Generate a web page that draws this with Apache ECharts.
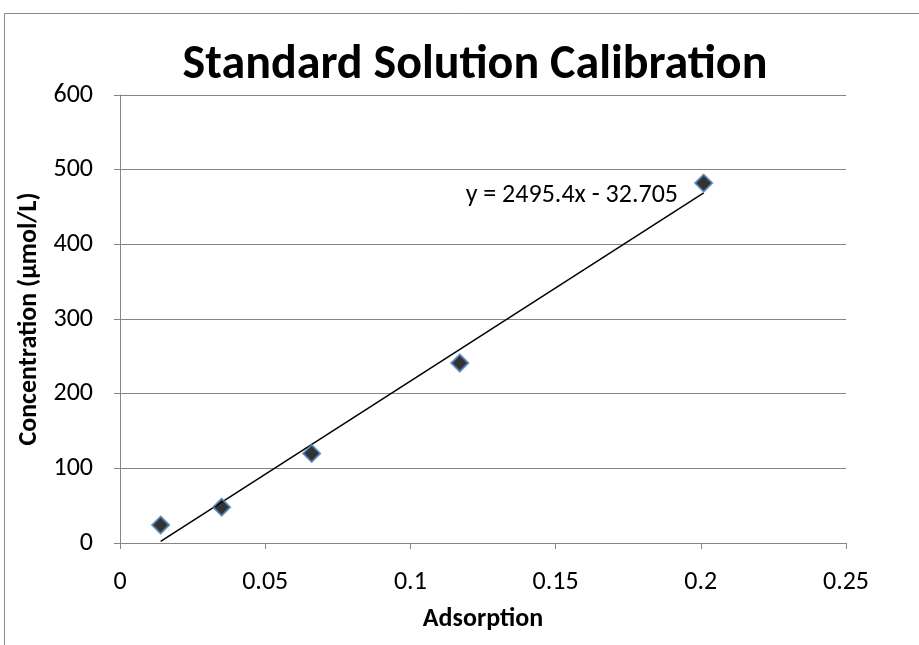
<!DOCTYPE html>
<html>
<head>
<meta charset="utf-8">
<style>html,body{margin:0;padding:0;background:#fff;}#chart{width:919px;height:645px;}</style>
<script src="https://cdn.jsdelivr.net/npm/echarts@6/dist/echarts.min.js"></script>
</head>
<body>
<div id="chart"></div>
<script>
const absorption = [0.014, 0.035, 0.066, 0.117, 0.201];
const concentration = [24, 48, 120, 241, 482];
const slope = 2495.4;
const intercept = -32.705;
const xTicks = [0, 0.05, 0.1, 0.15, 0.2, 0.25];
const yTicks = [0, 100, 200, 300, 400, 500, 600];
const titleText = 'Standard Solution Calibration';
const xName = 'Adsorption';
const yName = 'Concentration (µmol/L)';
const eqText = 'y = 2495.4x - 32.705';

const pts = absorption.map((x, i) => [x, concentration[i]]);
const xMin = Math.min(...absorption), xMax = Math.max(...absorption);
const trend = [[xMin, slope * xMin + intercept], [xMax, slope * xMax + intercept]];

const font = 'Carlito, "Open Sans", "Liberation Sans", sans-serif';
const chart = echarts.init(document.getElementById('chart'));
chart.setOption({
  animation: false,
  title: {
    text: titleText, left: 470, top: 37, textAlign: 'center',
    textStyle: {fontFamily: font, fontSize: 48, fontWeight: 'bold', color: '#000'}
  },
  grid: {left: 120, right: 73, top: 95, bottom: 102},
  xAxis: {
    type: 'value', min: 0, max: 0.25, interval: 0.05,
    name: xName, nameLocation: 'middle', nameGap: 63,
    nameTextStyle: {fontFamily: font, fontSize: 26, fontWeight: 'bold', color: '#000'},
    axisLine: {show: true, lineStyle: {color: '#868686', width: 1}},
    axisTick: {show: true, inside: false, length: 6, lineStyle: {color: '#868686'}},
    axisLabel: {fontFamily: font, fontSize: 26, color: '#000', margin: 26,
      formatter: v => String(parseFloat(v.toFixed(2)))},
    splitLine: {show: false}
  },
  yAxis: {
    type: 'value', min: 0, max: 600, interval: 100,
    name: yName, nameLocation: 'middle', nameGap: 77, nameRotate: 90,
    nameTextStyle: {fontFamily: font, fontSize: 26, fontWeight: 'bold', color: '#000'},
    axisLine: {show: true, lineStyle: {color: '#868686', width: 1}},
    axisTick: {show: true, inside: false, length: 6, lineStyle: {color: '#868686'}},
    axisLabel: {fontFamily: font, fontSize: 26, color: '#000', margin: 27},
    splitLine: {show: true, lineStyle: {color: '#868686', width: 1}}
  },
  series: [
    {
      type: 'line', data: trend, symbol: 'none', silent: true,
      lineStyle: {color: '#000', width: 1.5}, z: 2
    },
    {
      type: 'scatter', data: pts, symbol: 'diamond', symbolSize: 17,
      itemStyle: {color: '#000', borderColor: '#4f81bd', borderWidth: 2}, z: 3
    }
  ],
  graphic: [
    {type: 'rect', shape: {x: 4.5, y: 13.5, width: 1000, height: 1000},
      style: {fill: 'none', stroke: '#888', lineWidth: 1}, silent: true},
    {type: 'text', right: 241, top: 182,
      style: {text: eqText, font: '26px ' + font, fill: '#000'}}
  ]
});
</script>
</body>
</html>
